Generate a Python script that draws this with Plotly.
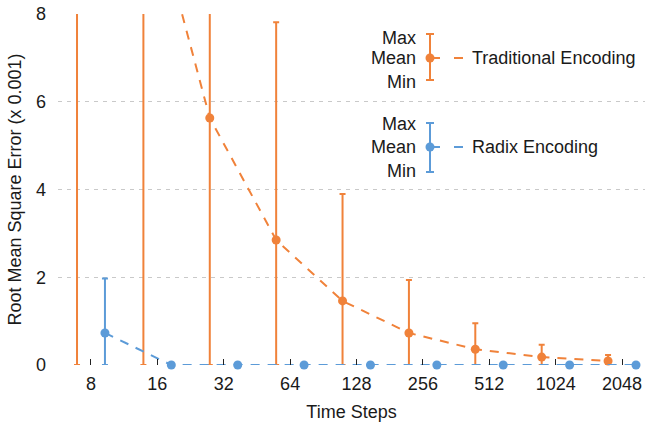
import plotly.graph_objects as go

# ---------------- data ----------------
time_steps = [8, 16, 32, 64, 128, 256, 512, 1024, 2048]
tick_labels = ["8", "16", "32", "64", "128", "256", "512", "1024", "2048"]

trad_mean = [22.5, 11.3, 5.63, 2.85, 1.46, 0.73, 0.36, 0.18, 0.09]
trad_max = [40.0, 25.0, 12.0, 7.81, 3.9, 1.94, 0.95, 0.46, 0.23]
trad_min = [0, 0, 0, 0, 0, 0, 0, 0, 0]

radix_mean = [0.73, 0, 0, 0, 0, 0, 0, 0, 0]
radix_max = [1.97, 0, 0, 0, 0, 0, 0, 0, 0]
radix_min = [0, 0, 0, 0, 0, 0, 0, 0, 0]

series_names = ["Traditional Encoding", "Radix Encoding"]
legend_levels = ["Max", "Mean", "Min"]

# ---------------- style ----------------
ORANGE = "#F0823A"
BLUE = "#5C9BD8"
GRID = "#C9C9C9"
TEXT = "#1a1a1a"
FONT = "Liberation Sans, Arial, Helvetica, sans-serif"
DODGE = 1.157  # multiplicative offset on the log axis

x_trad = [t / DODGE for t in time_steps]
x_radix = [t * DODGE for t in time_steps]


def err(mean, hi, lo):
    return dict(
        type="data", symmetric=False,
        array=[h - m for h, m in zip(hi, mean)],
        arrayminus=[m - l for m, l in zip(mean, lo)],
        thickness=2, width=3,
    )


fig = go.Figure()

for xs, mean, hi, lo, col, name in [
    (x_trad, trad_mean, trad_max, trad_min, ORANGE, series_names[0]),
    (x_radix, radix_mean, radix_max, radix_min, BLUE, series_names[1]),
]:
    e = err(mean, hi, lo)
    e["color"] = col
    fig.add_trace(go.Scatter(
        x=xs, y=mean, name=name, mode="lines+markers",
        line=dict(color=col, width=2, dash="9px,8px"),
        marker=dict(color=col, size=9),
        error_y=e, cliponaxis=False, showlegend=False,
    ))

# ---------------- custom legend (on a hidden pixel-like axis pair) ----------------
legend_x = 430
legend_rows = [
    (ORANGE, series_names[0], 36, 58, 82),
    (BLUE, series_names[1], 122, 147, 171),
]
for col, name, ytop, ymid, ybot in legend_rows:
    fig.add_trace(go.Scatter(
        x=[legend_x], y=[ymid], xaxis="x2", yaxis="y2", mode="markers",
        marker=dict(color=col, size=9),
        error_y=dict(type="data", symmetric=False, array=[ymid - ytop],
                     arrayminus=[ybot - ymid], color=col, thickness=2, width=4),
        showlegend=False, hoverinfo="skip", cliponaxis=False,
    ))
    fig.add_trace(go.Scatter(
        x=[legend_x, legend_x + 10, None, legend_x + 24, legend_x + 33],
        y=[ymid, ymid, None, ymid, ymid], xaxis="x2", yaxis="y2", mode="lines",
        line=dict(color=col, width=2), showlegend=False, hoverinfo="skip",
    ))
    for lab, yy in zip(legend_levels, [ytop + 2, ymid, ybot]):
        fig.add_annotation(x=legend_x - 12, y=yy, xref="x2", yref="y2", text=lab,
                           showarrow=False, xanchor="right", yanchor="middle",
                           font=dict(size=18, color=TEXT, family=FONT))
    fig.add_annotation(x=legend_x + 40, y=ymid, xref="x2", yref="y2", text=name,
                       showarrow=False, xanchor="left", yanchor="middle",
                       font=dict(size=18, color=TEXT, family=FONT))

fig.update_layout(
    width=653, height=422,
    margin=dict(l=58, r=8, t=14, b=57),
    paper_bgcolor="white", plot_bgcolor="white",
    font=dict(family=FONT, size=18, color=TEXT),
    xaxis=dict(
        type="log", range=[0.7535, 3.4155],
        tickvals=time_steps, ticktext=tick_labels,
        ticks="inside", ticklen=6, tickwidth=1, tickcolor="#222",
        showgrid=False, zeroline=False, showline=False, automargin=False,
        title=dict(text="Time Steps", font=dict(size=18), standoff=12),
        tickfont=dict(size=18), ticklabelstandoff=6,
    ),
    yaxis=dict(
        range=[0, 8], tickvals=[0, 2, 4, 6, 8],
        showgrid=True, gridcolor=GRID, griddash="4px,5px", gridwidth=1,
        zeroline=False, showline=False, ticks="", automargin=False,
        title=dict(text="Root Mean Square Error (x 0.001)", font=dict(size=18), standoff=9),
        tickfont=dict(size=18), ticklabelstandoff=11,
    ),
    xaxis2=dict(overlaying="x", range=[58, 645], visible=False, anchor="y2"),
    yaxis2=dict(overlaying="y", range=[365, 14], visible=False, anchor="x2"),
)

fig.write_html(
    "out.html",
    config={"displayModeBar": False},
    post_script="document.body.style.margin='0';",
)
